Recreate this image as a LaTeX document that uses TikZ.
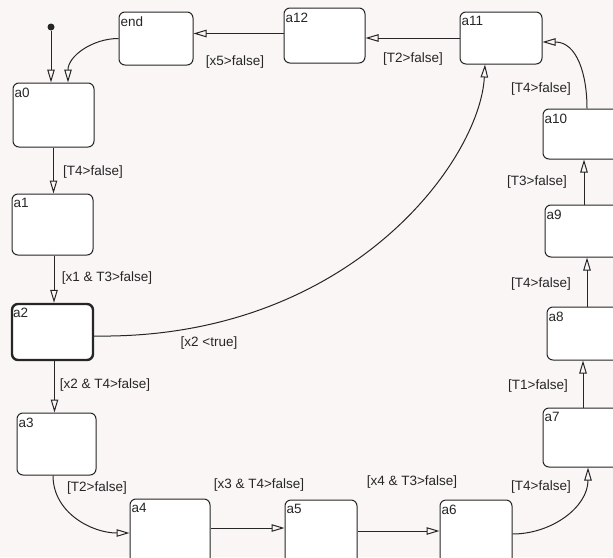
\documentclass[tikz,border=0pt]{standalone}
\usepackage{fontspec}
\setmainfont{Liberation Sans}
\usetikzlibrary{arrows.meta}
\definecolor{bg}{HTML}{FAF6F6}
\definecolor{ink}{HTML}{262626}
\tikzset{
  stbox/.style={draw=ink, line width=1pt, rounded corners=6pt, fill=white, inner sep=0pt},
  arr/.style={draw=ink, line width=1pt, -{Triangle[open,length=13pt,width=7.5pt,line width=1pt]}},
  lbl/.style={font=\fontsize{13.5}{15}\selectfont, text=ink, inner sep=1pt},
  nm/.style={font=\fontsize{13.5}{15}\selectfont, text=ink, inner sep=2pt, anchor=north west, yshift=-3pt}
}
\newcommand{\stnode}[6]{% name, cx, cy, w, h, text
  \node[stbox, minimum width=#4pt, minimum height=#5pt] (#1) at (#2,#3) {};
  \node[nm] (#1t) at (#1.north west) {#6};
}
\begin{document}
\begin{tikzpicture}[x=1pt, y=-1pt]
\fill[bg] (0,0) rectangle (613,557);
\useasboundingbox (0,0) rectangle (613,557);
\clip (0,0) rectangle (613,557);

\stnode{end}{156}{38.5}{74}{53}{end}
\stnode{a12}{324.5}{35.5}{81}{55}{a12}
\stnode{a11}{501}{38}{82}{52}{a11}
\stnode{a10}{591.5}{134}{97}{50}{a10}
\stnode{a9}{592.5}{231}{95}{52}{a9}
\stnode{a8}{593.5}{333.5}{93}{53}{a8}
\stnode{a7}{591.5}{437.5}{97}{59}{a7}
\stnode{a6}{476}{550}{72}{100}{a6}
\stnode{a5}{321}{550}{72}{100}{a5}
\stnode{a4}{170}{549.5}{80}{101}{a4}
\stnode{a3}{56.5}{444}{79}{62}{a3}
\node[stbox, line width=2.4pt, minimum width=81pt, minimum height=56pt] (a2) at (52.5,332) {};
\node[nm] (a2t) at (a2.north west) {a2};
\stnode{a1}{52.5}{224.5}{81}{61}{a1}
\stnode{a0}{53.5}{115}{81}{64}{a0}

\node[circle, fill=ink, inner sep=0pt, minimum size=7pt] (init) at (51,27) {};

% connectors
\draw[arr] (init) -- (init |- a0.north);
\draw[arr] (end.west) to[out=180, in=90] ([xshift=14.5pt]a0.north);
\draw[arr] ([yshift=2pt]a12.west) -- ([yshift=2pt]a12.west -| end.east);
\draw[arr] (a11.west) -- (a11.west -| a12.east);
\draw[arr] ([xshift=-4.5pt]a10.north) to[out=90, in=0, looseness=1.1] ([yshift=-4pt]a11.east);
\draw[arr] ([xshift=-8.5pt]a9.north) -- ([xshift=-8.5pt]a9.north |- a10.south);
\draw[arr] ([xshift=-6.5pt]a8.north) -- ([xshift=-6.5pt]a8.north |- a9.south);
\draw[arr] ([xshift=-8.5pt]a7.north) -- ([xshift=-8.5pt]a7.north |- a8.south);
\draw[arr] ([yshift=16pt]a6.east) to[out=0, in=-90] ([xshift=-3.5pt]a7.south);
\draw[arr] ([yshift=19pt]a5.east) -- ([yshift=19pt]a5.east -| a6.west);
\draw[arr] ([yshift=21.5pt]a4.east) -- ([yshift=21.5pt]a4.east -| a5.west);
\draw[arr] ([xshift=-3.5pt]a3.south) to[out=-90, in=180] ([yshift=16.5pt]a4.west);
\draw[arr] ([xshift=2pt]a2.south) -- ([xshift=2pt]a2.south |- a3.north);
\draw[arr] ([xshift=1.5pt]a1.south) -- ([xshift=1.5pt]a1.south |- a2.north);
\draw[arr] (a0.south) -- (a0.south |- a1.north);
\draw[arr] ([yshift=-4pt]a2.east) .. controls (350,340) and (480,160) .. ([xshift=-16pt]a11.south);

% labels
\node[lbl] (l1) at (235,62) {[x5>false]};
\node[lbl] (l2) at (413,59) {[T2>false]};
\node[lbl] (l3) at (541,89) {[T4>false]};
\node[lbl] (l4) at (537,182) {[T3>false]};
\node[lbl] (l5) at (541,284) {[T4>false]};
\node[lbl] (l6) at (538,386) {[T1>false]};
\node[lbl] (l7) at (541,487) {[T4>false]};
\node[lbl] (l8) at (412,482) {[x4 \& T3>false]};
\node[lbl] (l9) at (259,485) {[x3 \& T4>false]};
\node[lbl] (l10) at (97,488) {[T2>false]};
\node[lbl] (l11) at (105,385) {[x2 \& T4>false]};
\node[lbl] (l12) at (107,278) {[x1 \& T3>false]};
\node[lbl] (l13) at (93,172) {[T4>false]};
\node[lbl] (l14) at (209,343) {[x2 <true]};
\end{tikzpicture}
\end{document}
